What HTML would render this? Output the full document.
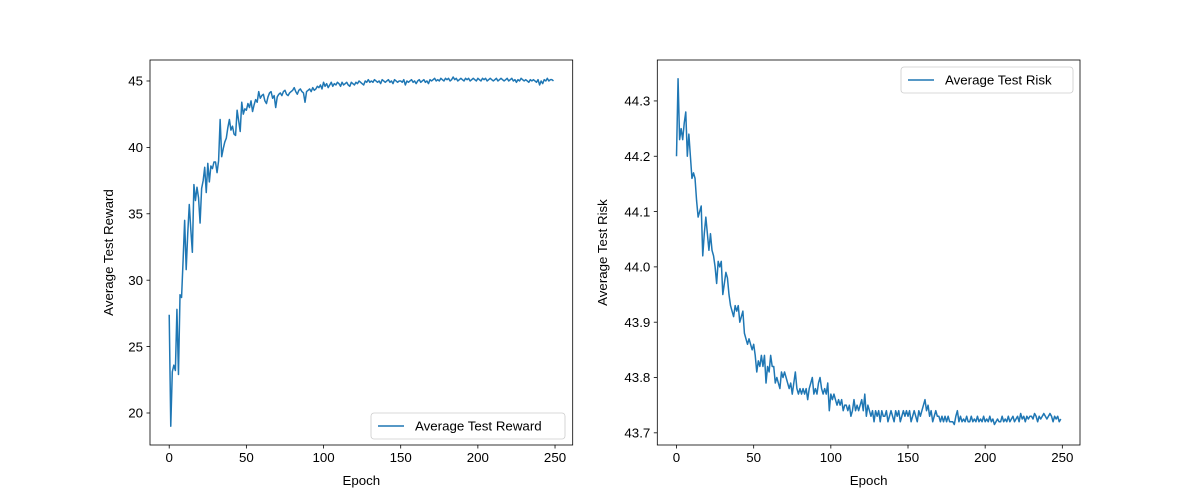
<!DOCTYPE html>
<html><head><meta charset="utf-8"><style>
body{margin:0;background:#fff}
svg{display:block;font-family:"Liberation Sans","DejaVu Sans",sans-serif}
</style></head><body>
<svg id="fig" width="1200" height="500" xmlns="http://www.w3.org/2000/svg"></svg>
<script>
const epochsCount = 250;
const rewardValues = [27.4,19.0,23.1,23.6,23.2,27.8,22.9,28.9,28.7,31.5,
34.5,30.8,33.5,35.7,33.8,32.1,37.2,36.0,37.0,36.2,
34.3,36.9,37.5,38.5,36.6,38.8,37.4,38.6,38.4,38.9,
38.9,38.1,39.0,42.1,39.3,39.9,40.4,40.7,41.5,42.1,
41.3,41.6,41.0,40.9,42.8,42.0,41.2,43.4,42.5,42.9,
42.8,43.3,43.0,43.5,42.7,43.2,43.6,43.4,44.2,43.7,
43.9,44.0,43.5,43.3,43.8,44.1,44.2,43.7,43.9,43.0,
43.8,44.0,44.1,43.9,44.2,44.3,44.0,43.9,44.1,44.2,
44.3,44.5,44.2,44.0,44.3,44.4,44.2,44.1,43.4,44.2,
44.3,44.4,44.2,44.5,44.3,44.4,44.6,44.5,44.7,44.4,
44.9,44.6,44.8,44.5,44.7,44.9,44.6,44.8,44.7,44.9,
44.8,44.6,44.9,44.7,44.8,44.9,44.7,44.6,44.9,44.8,
44.7,44.9,44.8,45.0,44.9,44.8,44.7,45.0,44.9,45.1,
44.9,45.0,44.9,45.1,45.0,44.9,45.0,44.8,45.1,45.0,
44.9,45.0,45.1,44.9,45.0,44.8,45.1,45.0,44.9,45.0,
45.0,44.9,45.1,44.7,45.0,44.9,45.0,45.1,44.9,45.0,
44.8,45.0,45.1,44.9,45.0,45.1,44.9,45.0,44.8,45.1,
45.0,45.1,45.2,45.0,45.1,45.0,45.2,45.1,45.0,45.2,
45.1,45.2,45.0,45.1,45.3,45.1,45.2,45.0,45.1,45.2,
45.1,45.0,45.2,45.1,45.2,45.0,45.1,45.2,45.1,45.0,
45.2,45.1,45.0,45.2,45.1,45.2,45.0,45.1,45.2,45.1,
45.0,45.1,45.2,45.0,45.1,45.2,45.1,45.0,45.1,45.2,
45.0,45.1,45.2,45.0,45.1,44.9,45.1,45.0,45.2,45.1,
45.0,45.1,45.0,44.9,45.1,45.0,45.1,45.0,44.9,45.1,
44.7,45.0,44.8,45.1,45.0,45.2,45.0,45.1,45.1,45.0];
const riskValues = [44.20,44.34,44.23,44.25,44.23,44.26,44.28,44.20,44.24,44.20,
44.16,44.17,44.16,44.12,44.09,44.10,44.11,44.02,44.06,44.09,
44.06,44.03,44.06,44.03,44.02,44.00,43.97,44.01,44.00,44.01,
43.95,43.97,43.99,43.98,43.95,43.93,43.92,43.91,43.93,43.92,
43.93,43.90,43.91,43.92,43.88,43.87,43.86,43.87,43.86,43.85,
43.86,43.84,43.81,43.83,43.82,43.84,43.82,43.84,43.79,43.82,
43.81,43.84,43.82,43.82,43.79,43.80,43.79,43.78,43.81,43.80,
43.81,43.80,43.79,43.78,43.79,43.77,43.79,43.81,43.78,43.77,
43.78,43.77,43.78,43.77,43.78,43.76,43.78,43.79,43.80,43.77,
43.78,43.77,43.79,43.80,43.78,43.77,43.78,43.77,43.79,43.74,
43.77,43.76,43.77,43.76,43.75,43.76,43.75,43.76,43.74,43.75,
43.75,43.74,43.75,43.73,43.74,43.76,43.74,43.75,43.74,43.75,
43.76,43.74,43.77,43.73,43.75,43.74,43.73,43.74,43.72,43.74,
43.73,43.74,43.72,43.74,43.73,43.73,43.74,43.72,43.73,43.74,
43.73,43.72,43.74,43.73,43.74,43.72,43.73,43.74,43.73,43.74,
43.73,43.74,43.72,43.73,43.74,43.73,43.72,43.74,43.73,43.74,
43.75,43.76,43.74,43.75,43.73,43.74,43.72,43.73,43.74,43.73,
43.73,43.72,43.73,43.72,43.73,43.72,43.73,43.72,43.72,43.72,
43.715,43.73,43.74,43.72,43.73,43.72,43.725,43.72,43.73,43.72,
43.72,43.73,43.72,43.725,43.72,43.73,43.72,43.725,43.72,43.73,
43.72,43.725,43.72,43.73,43.72,43.725,43.715,43.72,43.725,43.72,
43.72,43.73,43.72,43.725,43.72,43.73,43.72,43.725,43.73,43.72,
43.725,43.73,43.72,43.735,43.725,43.73,43.72,43.73,43.725,43.73,
43.73,43.725,43.735,43.73,43.72,43.73,43.725,43.73,43.735,43.73,
43.725,43.73,43.735,43.73,43.72,43.73,43.725,43.73,43.72,43.725];
const xTicks = [0,50,100,150,200,250];
const rewardTicks = [20,25,30,35,40,45];
const riskTicks = [43.7,43.8,43.9,44.0,44.1,44.2,44.3];

const svg = document.getElementById('fig');
const NS = 'http://www.w3.org/2000/svg';
function mk(tag, attrs, parent){const e=document.createElementNS(NS,tag);for(const k in attrs)e.setAttribute(k,attrs[k]);(parent||svg).appendChild(e);return e;}

function panel(cfg){
  const g = mk('g',{});
  
  
  const {x0,x1,y0,y1,xmin,xmax,ymin,ymax} = cfg;
  const sx = v => x0 + (v - xmin) / (xmax - xmin) * (x1 - x0);
  const sy = v => y1 - (v - ymin) / (ymax - ymin) * (y1 - y0);
  const pts = cfg.values.map((v,i)=>sx(i).toFixed(2)+','+sy(v).toFixed(2)).join(' ');
  const line = mk('polyline',{points:pts,fill:'none',stroke:'#1f77b4','stroke-width':1.5,'stroke-linejoin':'round'},g);
  
  
  const frame = mk('rect',{x:x0,y:y0,width:x1-x0,height:y1-y0,fill:'none',stroke:'#000','stroke-width':0.8},g);
  
  
  xTicks.forEach(t=>{
    const x = sx(t);
    mk('line',{x1:x,x2:x,y1:y1,y2:y1+3.5,stroke:'#000','stroke-width':0.8},g);
    const tx = mk('text',{x:x,y:y1+17,'font-size':13.3,'text-anchor':'middle'},g);
    tx.textContent = t;
    
    
  });
  cfg.yTicks.forEach(t=>{
    const y = sy(t);
    mk('line',{x1:x0-3.5,x2:x0,y1:y,y2:y,stroke:'#000','stroke-width':0.8},g);
    const tx = mk('text',{x:x0-7,y:y+4.7,'font-size':13.3,'text-anchor':'end'},g);
    tx.textContent = t.toFixed(cfg.dec);
    
    
  });
  const xl = mk('text',{x:(x0+x1)/2,y:485,'font-size':13.3,'text-anchor':'middle'},g);
  xl.textContent = 'Epoch';
  
  
  const yl = mk('text',{x:0,y:0,'font-size':13.3,'text-anchor':'middle',transform:`translate(${cfg.ylx},${(y0+y1)/2}) rotate(-90)`},g);
  yl.textContent = cfg.ylabel;
  
  
  const L = cfg.legend;
  const lg = mk('g',{},g);
  
  
  mk('rect',{x:L.x,y:L.y,width:L.w,height:26,rx:3,fill:'#fff','fill-opacity':0.8,stroke:'#ccc','stroke-width':0.8},lg);
  mk('line',{x1:L.x+7,x2:L.x+33,y1:L.y+13,y2:L.y+13,stroke:'#1f77b4','stroke-width':1.5},lg);
  const lt = mk('text',{x:L.x+44,y:L.y+17.5,'font-size':13.3},lg);
  lt.textContent = cfg.ylabel;
  
  
}
panel({name:'reward-chart',x0:150,x1:572.7,y0:60,y1:445,xmin:-12.45,xmax:261.45,ymin:17.59,ymax:46.58,
  values:rewardValues,yTicks:rewardTicks,dec:0,ylabel:'Average Test Reward',ylx:113,
  legend:{x:371,y:413,w:194}});
panel({name:'risk-chart',x0:657.3,x1:1080,y0:60,y1:445,xmin:-12.45,xmax:261.45,ymin:43.678,ymax:44.374,
  values:riskValues,yTicks:riskTicks,dec:1,ylabel:'Average Test Risk',ylx:607,
  legend:{x:901,y:67,w:172}});
</script>
</body></html>
